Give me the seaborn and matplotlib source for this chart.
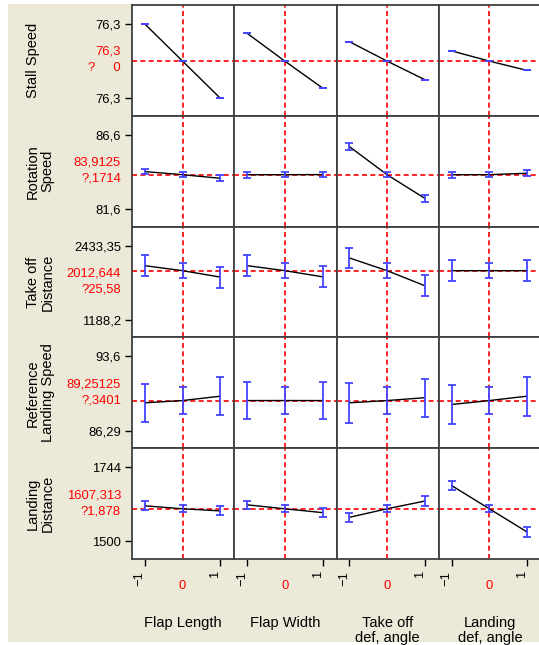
import pandas as pd
import matplotlib.pyplot as plt
import matplotlib.transforms as mtransforms
from matplotlib.patches import Rectangle
import seaborn as sns

# Factors (columns) and responses (rows) of the prediction profiler
factors = ["Flap Length", "Flap Width", "Take off\ndef, angle", "Landing\ndef, angle"]
responses = ["Stall Speed", "Rotation\nSpeed", "Take off\nDistance",
             "Reference\nLanding Speed", "Landing\nDistance"]
levels = [-1, 0, 1]

# predicted value at levels -1, 0, 1 for each factor
stall_speed = [[76.340, 76.300, 76.260], [76.330, 76.300, 76.271],
               [76.321, 76.300, 76.280], [76.311, 76.300, 76.290]]
rotation_speed = [[84.12, 83.9125, 83.67], [83.91, 83.9125, 83.92],
                  [85.81, 83.9125, 82.32], [83.91, 83.9125, 84.01]]
takeoff_distance = [[2096.8, 2012.644, 1905.0], [2096.8, 2012.644, 1910.0],
                    [2226.4, 2012.644, 1760.3], [2012.6, 2012.644, 2012.6]]
ref_landing_speed = [[89.03, 89.25125, 89.68], [89.25, 89.25125, 89.25],
                     [89.03, 89.25125, 89.53], [88.86, 89.25125, 89.68]]
landing_distance = [[1617.0, 1607.313, 1600.3], [1620.3, 1607.313, 1594.6],
                    [1579.2, 1607.313, 1632.7], [1683.8, 1607.313, 1531.1]]

# confidence half-widths
stall_speed_err = [[0, 0, 0], [0, 0, 0], [0, 0, 0], [0, 0, 0]]
rotation_speed_err = [[0.19, 0.1714, 0.19], [0.19, 0.1714, 0.19],
                      [0.25, 0.1714, 0.25], [0.19, 0.1714, 0.19]]
takeoff_distance_err = [[173, 125.58, 175], [173, 125.58, 175],
                        [175, 125.58, 175], [175, 125.58, 175]]
ref_landing_speed_err = [[1.86, 1.3401, 1.86], [1.85, 1.3401, 1.86],
                         [1.95, 1.3401, 1.86], [1.93, 1.3401, 1.93]]
landing_distance_err = [[15, 11.878, 15], [14, 11.878, 14],
                        [15, 11.878, 15], [15, 11.878, 15]]

values = [stall_speed, rotation_speed, takeoff_distance, ref_landing_speed, landing_distance]
errors = [stall_speed_err, rotation_speed_err, takeoff_distance_err,
          ref_landing_speed_err, landing_distance_err]

# axis ticks and current settings
tick_top = [76.34, 86.6, 2433.35, 93.6, 1744]
tick_bottom = [76.26, 81.6, 1188.2, 86.29, 1500]
tick_top_labels = ["76,3", "86,6", "2433,35", "93,6", "1744"]
tick_bottom_labels = ["76,3", "81,6", "1188,2", "86,29", "1500"]
current = [76.30, 83.9125, 2012.644, 89.25125, 1607.313]
current_labels = ["76,3", "83,9125", "2012,644", "89,25125", "1607,313"]
ci_labels = ["?     0", "?,1714", "?25,58", "?,3401", "?1,878"]

sns.set_theme(style="white")
plt.rcParams["font.family"] = ["Liberation Sans", "DejaVu Sans"]

W, H = 539, 645
fig, axes = plt.subplots(5, 4, figsize=(W / 100, H / 100), dpi=100,
                         gridspec_kw=dict(hspace=0, wspace=0))
fig.subplots_adjust(left=132 / W, right=541 / W, top=1 - 5 / H, bottom=1 - 559 / H)
fig.patch.set_facecolor("white")
fig.add_artist(Rectangle((8 / W, 3 / H), 1, 1 - 7 / H, transform=fig.transFigure,
                         facecolor="#ECE9D8", edgecolor="none", zorder=-10))

red_dash = dict(color="#FF0000", lw=1.2, ls=(0, (3, 2)), zorder=1.5)
offset = mtransforms.ScaledTranslation(-5 / 100, 0, fig.dpi_scale_trans)

for i in range(5):
    span = tick_top[i] - tick_bottom[i]
    for j in range(4):
        ax = axes[i, j]
        ax.set_facecolor("white")
        df = pd.DataFrame({"level": levels, "value": values[i][j]})
        sns.lineplot(data=df, x="level", y="value", ax=ax, color="black",
                     lw=1, errorbar=None, zorder=2)
        ax.errorbar(levels, values[i][j], yerr=errors[i][j], fmt="none",
                    ecolor="#4444FF", elinewidth=1.3, capsize=3, capthick=1.3, zorder=3)
        ax.axvline(0, **red_dash)
        ax.axhline(current[i], **red_dash)
        ax.set_xlim(-1.34, 1.37)
        ax.set_ylim(tick_bottom[i] - 0.237 * span, tick_top[i] + 0.256 * span)
        ax.set_xlabel("")
        ax.set_ylabel("")
        for sp in ax.spines.values():
            sp.set_color("#404040")
            sp.set_linewidth(1.3)
        ax.set_xticks([])
        ax.set_yticks([])

        if j == 0:
            ax.set_yticks([tick_bottom[i], tick_top[i]],
                          labels=[tick_bottom_labels[i], tick_top_labels[i]])
            ax.tick_params(axis="y", left=True, length=5, width=1, color="black",
                           pad=2.9, labelsize=9.4, labelcolor="black")
            trans = mtransforms.blended_transform_factory(fig.transFigure, ax.transAxes)
            ax.text(121 / W, 0.576, current_labels[i], transform=trans, ha="right",
                    va="center", color="#FF0000", fontsize=9.4)
            ax.text(121 / W, 0.431, ci_labels[i], transform=trans, ha="right",
                    va="center", color="#FF0000", fontsize=9.4)
            ax.text(26 / W, 0.5, responses[i], transform=trans, rotation=90,
                    ha="left", va="center", multialignment="center",
                    fontsize=10.5, linespacing=1.05, color="black")

        if i == 4:
            ax.set_xticks([-1, 1], labels=["\u22121", "1"], rotation=90)
            ax.tick_params(axis="x", bottom=True, length=5, width=1, color="black",
                           pad=3.6, labelsize=9.4, labelcolor="black")
            for lab in ax.get_xticklabels():
                lab.set_transform(lab.get_transform() + offset)
            tz = mtransforms.blended_transform_factory(ax.transData, fig.transFigure)
            ax.text(0, 1 - 585.7 / H, "0", transform=tz, ha="center", va="center",
                    color="#FF0000", fontsize=9.4)
            tl = mtransforms.blended_transform_factory(ax.transAxes, fig.transFigure)
            ax.text(0.5, 1 - 616 / H, factors[j], transform=tl, ha="center", va="top",
                    fontsize=10.5, linespacing=1.05, color="black")

fig.savefig("out.png", dpi=100)
